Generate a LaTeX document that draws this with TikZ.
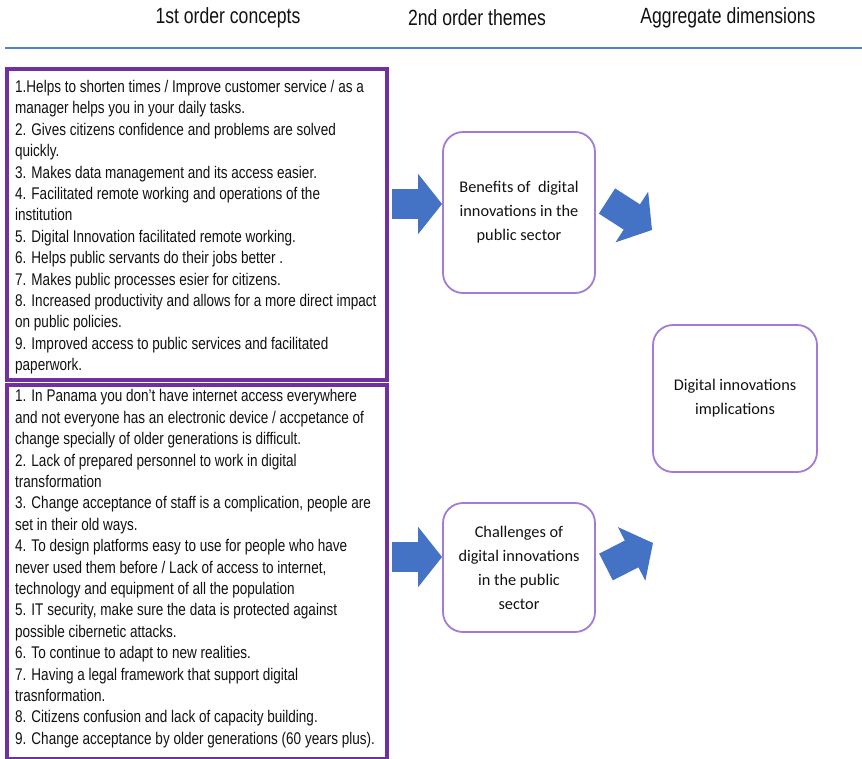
\documentclass[tikz,border=0pt]{standalone}
\usepackage{fontspec}
\setmainfont{Liberation Sans}[FakeStretch=0.8]
\newfontfamily\calfont{Carlito}
\usetikzlibrary{arrows.meta}

\definecolor{boxpurple}{HTML}{7030A0}
\definecolor{themepurple}{HTML}{A27BD6}
\definecolor{arrowblue}{HTML}{4472C4}
\definecolor{rulecolor}{HTML}{4F80D2}
\definecolor{textgray}{HTML}{111111}

\tikzset{
  header/.style={font=\fontsize{22}{26}\selectfont, text=textgray},
  listtext/.style={anchor=north west, align=left, inner sep=0pt,
    font=\fontsize{16.9}{21.4}\selectfont, text=textgray},
  listbox/.style={draw=boxpurple, line width=3.5pt, anchor=north west,
    inner sep=0pt, minimum width=380pt},
  theme/.style={draw=themepurple, line width=1.8pt, rounded corners=20pt,
    align=center, text=textgray, font=\calfont\fontsize{16.3}{24}\selectfont},
  fatarrow/.style={draw=arrowblue, line width=30pt,
    -{Triangle[length=24pt,width=59pt]}}
}

\begin{document}
\begin{tikzpicture}[x=1pt,y=-1pt]
\useasboundingbox (0,0) rectangle (862,758);

% headers
\node[header] (h1) at (228,18) {1st order concepts};
\node[header] (h2) at (477,18) {2nd order themes};
\node[header] (h3) at (728,18) {Aggregate dimensions};
\draw[rulecolor, line width=2pt] (5,48) -- (862,48);

% 1st order concepts
\node[listbox, minimum height=311pt] (benefitlist) at (5,67) {};
\node[listbox, minimum height=374pt] (challengelist) at (5,383) {};

\node[listtext] (benefittext) at (15,80) {1.Helps to shorten times / Improve customer service / as a\\
manager helps you in your daily tasks.\\
2. Gives citizens confidence and problems are solved\\
quickly.\\
3. Makes data management and its access easier.\\
4. Facilitated remote working and operations of the\\
institution\\
5. Digital Innovation facilitated remote working.\\
6. Helps public servants do their jobs better .\\
7. Makes public processes esier for citizens.\\
8. Increased productivity and allows for a more direct impact\\
on public policies.\\
9. Improved access to public services and facilitated\\
paperwork.};

\node[listtext] (challengetext) at (15,389.5) {1. In Panama you don’t have internet access everywhere\\
and not everyone has an electronic device / accpetance of\\
change specially of older generations is difficult.\\
2. Lack of prepared personnel to work in digital\\
transformation\\
3. Change acceptance of staff is a complication, people are\\
set in their old ways.\\
4. To design platforms easy to use for people who have\\
never used them before / Lack of access to internet,\\
technology and equipment of all the population\\
5. IT security, make sure the data is protected against\\
possible cibernetic attacks.\\
6. To continue to adapt to new realities.\\
7. Having a legal framework that support digital\\
trasnformation.\\
8. Citizens confusion and lack of capacity building.\\
9. Change acceptance by older generations (60 years plus).};

% 2nd order themes
\node[theme, minimum width=152pt, minimum height=161pt] (benefits) at (519,212.5)
  {Benefits of ~digital\\innovations in the\\public sector};
\node[theme, minimum width=152pt, minimum height=129pt] (challenges) at (519,567.5)
  {Challenges of\\digital innovations\\in the public\\sector};

% aggregate dimension
\node[theme, minimum width=164pt, minimum height=147pt] (implications) at (735,398.5)
  {Digital innovations\\implications};

% block arrows
\coordinate (a1) at (392,204);
\coordinate (a3) at (392,557);
\coordinate (a2s) at (607,201);
\coordinate (a2e) at (652,230);
\coordinate (a4s) at (606,567);
\coordinate (a4e) at (653,543);

\draw[fatarrow] (a1) -- (a1 -| benefits.west);
\draw[fatarrow] (a3) -- (a3 -| challenges.west);
\draw[fatarrow] (a2s) -- (a2e);   % to implications
\draw[fatarrow] (a4s) -- (a4e);

\end{tikzpicture}
\end{document}
